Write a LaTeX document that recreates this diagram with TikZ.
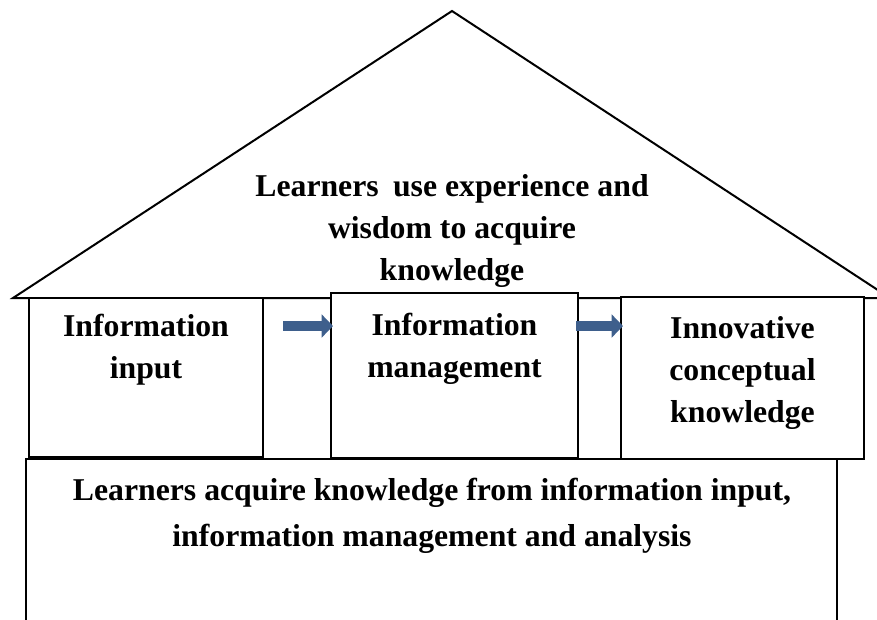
\documentclass[tikz,border=0pt]{standalone}
\usepackage{fontspec}
\setmainfont{Liberation Serif}
\usetikzlibrary{arrows.meta}
\definecolor{flowblue}{RGB}{62,95,140}
\begin{document}
\begin{tikzpicture}[x=0.75pt,y=-0.75pt,
  panel/.style={draw=black,line width=1.5pt,fill=white,inner sep=0pt,outer sep=0pt},
  caption/.style={font=\bfseries\fontsize{23.8pt}{31.5pt}\selectfont,align=center,inner sep=0pt,anchor=north},
  flow/.style={draw=flowblue,line width=6.9pt,-{Triangle[length=8.5pt,width=17pt]}}]
\useasboundingbox (0,0) rectangle (877,619);
\clip (0,0) rectangle (877,619);

% roof of the house
\draw[line width=1.5pt,line join=miter] (13,298) -- (452,11) -- (890,298) -- cycle;

% foundation
\node[panel,minimum width=608.25pt,minimum height=143.25pt] (base) at (431.5,554.5) {};

% the three pillars
\node[panel,minimum width=175.5pt,minimum height=119.25pt] (input) at (146,377.5) {};
\node[panel,minimum width=185.25pt,minimum height=123.75pt] (manage) at (454.5,375.5) {};
\node[panel,minimum width=182.25pt,minimum height=121.5pt] (innov) at (742.5,378) {};

% texts
\node[caption] (rooftext) at (452,174) {Learners\hspace{0.2em} use experience and\\wisdom to acquire\\knowledge};
\node[caption] (inputtext) at (146,314) {Information\\input};
\node[caption] (managetext) at (454.5,313) {Information\\management};
\node[caption] (innovtext) at (742.5,316) {Innovative\\conceptual\\knowledge};
\node[caption,font=\bfseries\fontsize{23.8pt}{34.5pt}\selectfont] (basetext) at (432,478)
  {Learners acquire knowledge from information input,\\information management and analysis};

% flow arrows
\coordinate (a1) at (283,326);
\draw[flow] (a1) -- ([xshift=1.5pt]a1 -| manage.west);
\coordinate (a2) at (576,326);
\draw[flow] (a2) -- ([xshift=1.5pt]a2 -| innov.west);
\end{tikzpicture}
\end{document}
